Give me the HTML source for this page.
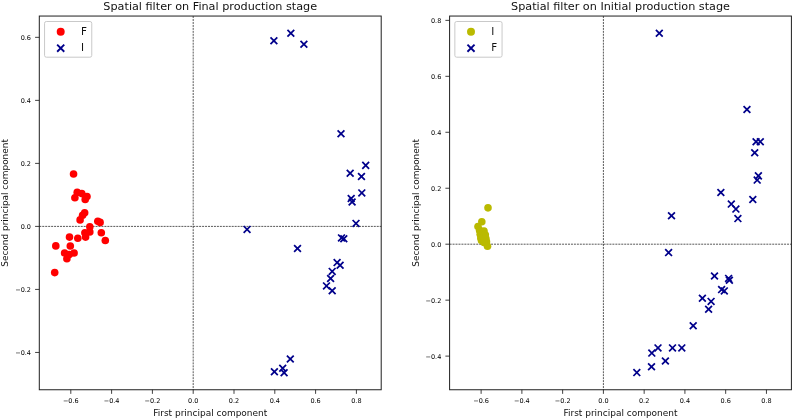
<!DOCTYPE html>
<html><head><meta charset="utf-8"><title>Spatial filter</title>
<style>html,body{margin:0;padding:0;background:#fff}svg{display:block}text{font-family:"DejaVu Sans","Liberation Sans",sans-serif;fill:#111}.t{fill:#000}</style></head><body>
<svg width="793" height="419" viewBox="0 0 793 419">
<rect width="793" height="419" fill="#fff"/>
<path d="M39.3 226.4H381.2M193.2 16.05V389.75" stroke="#111" stroke-width="0.7" stroke-dasharray="2.0 0.96" fill="none"/>
<circle cx="73.55" cy="174.0" r="3.8" fill="#ff0000"/>
<circle cx="77.2" cy="192.4" r="3.8" fill="#ff0000"/>
<circle cx="81.8" cy="193.6" r="3.8" fill="#ff0000"/>
<circle cx="74.9" cy="197.8" r="3.8" fill="#ff0000"/>
<circle cx="87.0" cy="196.6" r="3.8" fill="#ff0000"/>
<circle cx="85.2" cy="199.5" r="3.8" fill="#ff0000"/>
<circle cx="84.66" cy="212.8" r="3.8" fill="#ff0000"/>
<circle cx="82.6" cy="215.3" r="3.8" fill="#ff0000"/>
<circle cx="80.1" cy="219.9" r="3.8" fill="#ff0000"/>
<circle cx="97.8" cy="221.3" r="3.8" fill="#ff0000"/>
<circle cx="100.1" cy="222.4" r="3.8" fill="#ff0000"/>
<circle cx="89.8" cy="226.8" r="3.8" fill="#ff0000"/>
<circle cx="89.8" cy="231.9" r="3.8" fill="#ff0000"/>
<circle cx="84.9" cy="232.8" r="3.8" fill="#ff0000"/>
<circle cx="85.6" cy="237.1" r="3.8" fill="#ff0000"/>
<circle cx="101.3" cy="232.8" r="3.8" fill="#ff0000"/>
<circle cx="105.3" cy="240.5" r="3.8" fill="#ff0000"/>
<circle cx="77.8" cy="238.2" r="3.8" fill="#ff0000"/>
<circle cx="69.5" cy="237.1" r="3.8" fill="#ff0000"/>
<circle cx="70.3" cy="246.0" r="3.8" fill="#ff0000"/>
<circle cx="55.8" cy="245.9" r="3.8" fill="#ff0000"/>
<circle cx="64.6" cy="253.0" r="3.8" fill="#ff0000"/>
<circle cx="74.1" cy="253.0" r="3.8" fill="#ff0000"/>
<circle cx="69.2" cy="254.5" r="3.8" fill="#ff0000"/>
<circle cx="66.9" cy="258.7" r="3.8" fill="#ff0000"/>
<circle cx="54.7" cy="272.6" r="3.8" fill="#ff0000"/>
<path d="M270.50 37.26L277.30 44.06M270.50 44.06L277.30 37.26" stroke="#00008b" stroke-width="1.75" fill="none"/>
<path d="M287.45 29.84L294.25 36.64M287.45 36.64L294.25 29.84" stroke="#00008b" stroke-width="1.75" fill="none"/>
<path d="M300.50 40.79L307.30 47.59M300.50 47.59L307.30 40.79" stroke="#00008b" stroke-width="1.75" fill="none"/>
<path d="M337.60 130.37L344.40 137.17M337.60 137.17L344.40 130.37" stroke="#00008b" stroke-width="1.75" fill="none"/>
<path d="M362.30 161.97L369.10 168.77M362.30 168.77L369.10 161.97" stroke="#00008b" stroke-width="1.75" fill="none"/>
<path d="M346.77 169.90L353.57 176.70M346.77 176.70L353.57 169.90" stroke="#00008b" stroke-width="1.75" fill="none"/>
<path d="M358.07 173.10L364.87 179.90M358.07 179.90L364.87 173.10" stroke="#00008b" stroke-width="1.75" fill="none"/>
<path d="M358.40 189.50L365.20 196.30M358.40 196.30L365.20 189.50" stroke="#00008b" stroke-width="1.75" fill="none"/>
<path d="M347.80 195.10L354.60 201.90M347.80 201.90L354.60 195.10" stroke="#00008b" stroke-width="1.75" fill="none"/>
<path d="M348.70 198.67L355.50 205.47M348.70 205.47L355.50 198.67" stroke="#00008b" stroke-width="1.75" fill="none"/>
<path d="M352.60 220.00L359.40 226.80M352.60 226.80L359.40 220.00" stroke="#00008b" stroke-width="1.75" fill="none"/>
<path d="M243.66 226.00L250.46 232.80M243.66 232.80L250.46 226.00" stroke="#00008b" stroke-width="1.75" fill="none"/>
<path d="M338.10 234.50L344.90 241.30M338.10 241.30L344.90 234.50" stroke="#00008b" stroke-width="1.75" fill="none"/>
<path d="M340.40 235.40L347.20 242.20M340.40 242.20L347.20 235.40" stroke="#00008b" stroke-width="1.75" fill="none"/>
<path d="M294.10 245.10L300.90 251.90M294.10 251.90L300.90 245.10" stroke="#00008b" stroke-width="1.75" fill="none"/>
<path d="M333.70 259.20L340.50 266.00M333.70 266.00L340.50 259.20" stroke="#00008b" stroke-width="1.75" fill="none"/>
<path d="M336.70 261.85L343.50 268.65M336.70 268.65L343.50 261.85" stroke="#00008b" stroke-width="1.75" fill="none"/>
<path d="M328.80 268.00L335.60 274.80M328.80 274.80L335.60 268.00" stroke="#00008b" stroke-width="1.75" fill="none"/>
<path d="M327.20 275.10L334.00 281.90M327.20 281.90L334.00 275.10" stroke="#00008b" stroke-width="1.75" fill="none"/>
<path d="M323.10 282.50L329.90 289.30M323.10 289.30L329.90 282.50" stroke="#00008b" stroke-width="1.75" fill="none"/>
<path d="M328.80 287.30L335.60 294.10M328.80 294.10L335.60 287.30" stroke="#00008b" stroke-width="1.75" fill="none"/>
<path d="M286.90 355.55L293.70 362.35M286.90 362.35L293.70 355.55" stroke="#00008b" stroke-width="1.75" fill="none"/>
<path d="M271.00 368.40L277.80 375.20M271.00 375.20L277.80 368.40" stroke="#00008b" stroke-width="1.75" fill="none"/>
<path d="M279.30 364.90L286.10 371.70M279.30 371.70L286.10 364.90" stroke="#00008b" stroke-width="1.75" fill="none"/>
<path d="M280.70 369.30L287.50 376.10M280.70 376.10L287.50 369.30" stroke="#00008b" stroke-width="1.75" fill="none"/>
<rect x="39.3" y="16.05" width="341.90" height="373.70" fill="none" stroke="#1f1f1f" stroke-width="1.0"/>
<text x="70.80" y="403.0" font-size="6.5" class="t" text-anchor="middle">−0.6</text>
<text x="111.60" y="403.0" font-size="6.5" class="t" text-anchor="middle">−0.4</text>
<text x="152.40" y="403.0" font-size="6.5" class="t" text-anchor="middle">−0.2</text>
<text x="193.20" y="403.0" font-size="6.5" class="t" text-anchor="middle">0.0</text>
<text x="234.00" y="403.0" font-size="6.5" class="t" text-anchor="middle">0.2</text>
<text x="274.80" y="403.0" font-size="6.5" class="t" text-anchor="middle">0.4</text>
<text x="315.60" y="403.0" font-size="6.5" class="t" text-anchor="middle">0.6</text>
<text x="356.40" y="403.0" font-size="6.5" class="t" text-anchor="middle">0.8</text>
<text x="31.00" y="354.84" font-size="6.5" class="t" text-anchor="end">−0.4</text>
<text x="31.00" y="291.82" font-size="6.5" class="t" text-anchor="end">−0.2</text>
<text x="31.00" y="228.80" font-size="6.5" class="t" text-anchor="end">0.0</text>
<text x="31.00" y="165.78" font-size="6.5" class="t" text-anchor="end">0.2</text>
<text x="31.00" y="102.76" font-size="6.5" class="t" text-anchor="end">0.4</text>
<text x="31.00" y="39.74" font-size="6.5" class="t" text-anchor="end">0.6</text>
<path d="M70.80 389.75v4.1M111.60 389.75v4.1M152.40 389.75v4.1M193.20 389.75v4.1M234.00 389.75v4.1M274.80 389.75v4.1M315.60 389.75v4.1M356.40 389.75v4.1M39.3 352.44h-4.2M39.3 289.42h-4.2M39.3 226.40h-4.2M39.3 163.38h-4.2M39.3 100.36h-4.2M39.3 37.34h-4.2" stroke="#1f1f1f" stroke-width="0.85" fill="none"/>
<text x="210.25" y="415.7" font-size="8.97" text-anchor="middle">First principal component</text>
<text transform="translate(8.30 202.90) rotate(-90)" font-size="8.95" text-anchor="middle">Second principal component</text>
<text x="210.25" y="9.8" font-size="11.22" text-anchor="middle">Spatial filter on Final production stage</text>
<rect x="44.55" y="21.5" width="47.2" height="35.7" rx="1.8" fill="#fff" fill-opacity="0.8" stroke="#c6c6c6" stroke-opacity="0.95" stroke-width="1.0"/>
<circle cx="60.70" cy="31.75" r="4.0" fill="#ff0000"/>
<text x="80.90" y="34.60" font-size="10.3">F</text>
<path d="M57.15 44.65L64.25 51.75M57.15 51.75L64.25 44.65" stroke="#00008b" stroke-width="1.9" fill="none"/>
<text x="80.90" y="51.05" font-size="10.3">I</text>
<path d="M449.6 244.2H791.4M603.4 16.05V389.75" stroke="#111" stroke-width="0.7" stroke-dasharray="2.0 0.96" fill="none"/>
<circle cx="488.0" cy="207.85" r="3.8" fill="#baba00"/>
<circle cx="481.8" cy="221.8" r="3.8" fill="#baba00"/>
<circle cx="478.0" cy="226.6" r="3.8" fill="#baba00"/>
<circle cx="479.6" cy="230.4" r="3.8" fill="#baba00"/>
<circle cx="484.0" cy="231.0" r="3.8" fill="#baba00"/>
<circle cx="480.2" cy="234.2" r="3.8" fill="#baba00"/>
<circle cx="485.3" cy="234.8" r="3.8" fill="#baba00"/>
<circle cx="480.8" cy="238" r="3.8" fill="#baba00"/>
<circle cx="485.9" cy="238.6" r="3.8" fill="#baba00"/>
<circle cx="481.5" cy="240.5" r="3.8" fill="#baba00"/>
<circle cx="486.5" cy="241.8" r="3.8" fill="#baba00"/>
<circle cx="484" cy="242.4" r="3.8" fill="#baba00"/>
<circle cx="487.5" cy="246.2" r="3.8" fill="#baba00"/>
<path d="M655.90 29.80L662.70 36.60M655.90 36.60L662.70 29.80" stroke="#00008b" stroke-width="1.75" fill="none"/>
<path d="M743.56 106.10L750.36 112.90M743.56 112.90L750.36 106.10" stroke="#00008b" stroke-width="1.75" fill="none"/>
<path d="M752.65 138.40L759.45 145.20M752.65 145.20L759.45 138.40" stroke="#00008b" stroke-width="1.75" fill="none"/>
<path d="M756.90 138.40L763.70 145.20M756.90 145.20L763.70 138.40" stroke="#00008b" stroke-width="1.75" fill="none"/>
<path d="M751.30 149.30L758.10 156.10M751.30 156.10L758.10 149.30" stroke="#00008b" stroke-width="1.75" fill="none"/>
<path d="M755.00 172.46L761.80 179.26M755.00 179.26L761.80 172.46" stroke="#00008b" stroke-width="1.75" fill="none"/>
<path d="M753.80 176.70L760.60 183.50M753.80 183.50L760.60 176.70" stroke="#00008b" stroke-width="1.75" fill="none"/>
<path d="M717.45 189.10L724.25 195.90M717.45 195.90L724.25 189.10" stroke="#00008b" stroke-width="1.75" fill="none"/>
<path d="M749.40 196.10L756.20 202.90M749.40 202.90L756.20 196.10" stroke="#00008b" stroke-width="1.75" fill="none"/>
<path d="M727.90 200.70L734.70 207.50M727.90 207.50L734.70 200.70" stroke="#00008b" stroke-width="1.75" fill="none"/>
<path d="M732.50 205.70L739.30 212.50M732.50 212.50L739.30 205.70" stroke="#00008b" stroke-width="1.75" fill="none"/>
<path d="M734.50 215.20L741.30 222.00M734.50 222.00L741.30 215.20" stroke="#00008b" stroke-width="1.75" fill="none"/>
<path d="M668.10 212.30L674.90 219.10M668.10 219.10L674.90 212.30" stroke="#00008b" stroke-width="1.75" fill="none"/>
<path d="M665.20 249.20L672.00 256.00M665.20 256.00L672.00 249.20" stroke="#00008b" stroke-width="1.75" fill="none"/>
<path d="M711.10 272.60L717.90 279.40M711.10 279.40L717.90 272.60" stroke="#00008b" stroke-width="1.75" fill="none"/>
<path d="M725.20 275.00L732.00 281.80M725.20 281.80L732.00 275.00" stroke="#00008b" stroke-width="1.75" fill="none"/>
<path d="M726.00 276.90L732.80 283.70M726.00 283.70L732.80 276.90" stroke="#00008b" stroke-width="1.75" fill="none"/>
<path d="M718.20 286.20L725.00 293.00M718.20 293.00L725.00 286.20" stroke="#00008b" stroke-width="1.75" fill="none"/>
<path d="M720.90 287.50L727.70 294.30M720.90 294.30L727.70 287.50" stroke="#00008b" stroke-width="1.75" fill="none"/>
<path d="M699.00 294.90L705.80 301.70M699.00 301.70L705.80 294.90" stroke="#00008b" stroke-width="1.75" fill="none"/>
<path d="M707.70 298.00L714.50 304.80M707.70 304.80L714.50 298.00" stroke="#00008b" stroke-width="1.75" fill="none"/>
<path d="M705.20 305.90L712.00 312.70M705.20 312.70L712.00 305.90" stroke="#00008b" stroke-width="1.75" fill="none"/>
<path d="M689.80 322.40L696.60 329.20M689.80 329.20L696.60 322.40" stroke="#00008b" stroke-width="1.75" fill="none"/>
<path d="M654.60 344.50L661.40 351.30M654.60 351.30L661.40 344.50" stroke="#00008b" stroke-width="1.75" fill="none"/>
<path d="M669.10 344.50L675.90 351.30M669.10 351.30L675.90 344.50" stroke="#00008b" stroke-width="1.75" fill="none"/>
<path d="M678.40 344.50L685.20 351.30M678.40 351.30L685.20 344.50" stroke="#00008b" stroke-width="1.75" fill="none"/>
<path d="M648.40 349.70L655.20 356.50M648.40 356.50L655.20 349.70" stroke="#00008b" stroke-width="1.75" fill="none"/>
<path d="M662.00 357.60L668.80 364.40M662.00 364.40L668.80 357.60" stroke="#00008b" stroke-width="1.75" fill="none"/>
<path d="M648.10 363.40L654.90 370.20M648.10 370.20L654.90 363.40" stroke="#00008b" stroke-width="1.75" fill="none"/>
<path d="M633.40 369.20L640.20 376.00M633.40 376.00L640.20 369.20" stroke="#00008b" stroke-width="1.75" fill="none"/>
<rect x="449.6" y="16.05" width="341.80" height="373.70" fill="none" stroke="#1f1f1f" stroke-width="1.0"/>
<text x="481.12" y="403.0" font-size="6.5" class="t" text-anchor="middle">−0.6</text>
<text x="521.88" y="403.0" font-size="6.5" class="t" text-anchor="middle">−0.4</text>
<text x="562.64" y="403.0" font-size="6.5" class="t" text-anchor="middle">−0.2</text>
<text x="603.40" y="403.0" font-size="6.5" class="t" text-anchor="middle">0.0</text>
<text x="644.16" y="403.0" font-size="6.5" class="t" text-anchor="middle">0.2</text>
<text x="684.92" y="403.0" font-size="6.5" class="t" text-anchor="middle">0.4</text>
<text x="725.68" y="403.0" font-size="6.5" class="t" text-anchor="middle">0.6</text>
<text x="766.44" y="403.0" font-size="6.5" class="t" text-anchor="middle">0.8</text>
<text x="441.30" y="358.52" font-size="6.5" class="t" text-anchor="end">−0.4</text>
<text x="441.30" y="302.56" font-size="6.5" class="t" text-anchor="end">−0.2</text>
<text x="441.30" y="246.60" font-size="6.5" class="t" text-anchor="end">0.0</text>
<text x="441.30" y="190.64" font-size="6.5" class="t" text-anchor="end">0.2</text>
<text x="441.30" y="134.68" font-size="6.5" class="t" text-anchor="end">0.4</text>
<text x="441.30" y="78.72" font-size="6.5" class="t" text-anchor="end">0.6</text>
<text x="441.30" y="22.76" font-size="6.5" class="t" text-anchor="end">0.8</text>
<path d="M481.12 389.75v4.1M521.88 389.75v4.1M562.64 389.75v4.1M603.40 389.75v4.1M644.16 389.75v4.1M684.92 389.75v4.1M725.68 389.75v4.1M766.44 389.75v4.1M449.6 356.12h-4.2M449.6 300.16h-4.2M449.6 244.20h-4.2M449.6 188.24h-4.2M449.6 132.28h-4.2M449.6 76.32h-4.2M449.6 20.36h-4.2" stroke="#1f1f1f" stroke-width="0.85" fill="none"/>
<text x="620.50" y="415.7" font-size="8.97" text-anchor="middle">First principal component</text>
<text transform="translate(418.85 202.90) rotate(-90)" font-size="8.95" text-anchor="middle">Second principal component</text>
<text x="620.50" y="9.8" font-size="11.22" text-anchor="middle">Spatial filter on Initial production stage</text>
<rect x="454.85" y="21.5" width="47.2" height="35.7" rx="1.8" fill="#fff" fill-opacity="0.8" stroke="#c6c6c6" stroke-opacity="0.95" stroke-width="1.0"/>
<circle cx="471.00" cy="31.75" r="4.0" fill="#baba00"/>
<text x="491.20" y="34.60" font-size="10.3">I</text>
<path d="M467.45 44.65L474.55 51.75M467.45 51.75L474.55 44.65" stroke="#00008b" stroke-width="1.9" fill="none"/>
<text x="491.20" y="51.05" font-size="10.3">F</text>
</svg></body></html>
